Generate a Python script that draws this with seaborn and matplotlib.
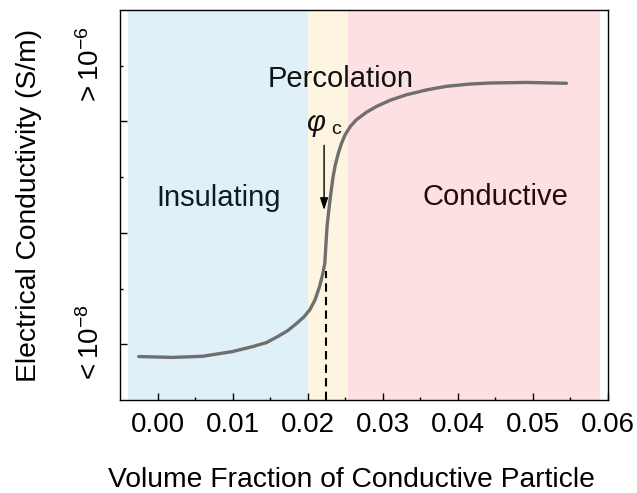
import matplotlib
matplotlib.use("Agg")
import matplotlib.pyplot as plt
import seaborn as sns
import pandas as pd

# ---- data ----
frac = [-0.0025, 0.0020, 0.0060, 0.0100, 0.0127, 0.0145, 0.0159, 0.0173, 0.0185,
        0.0195, 0.0203, 0.0210, 0.0216, 0.0220, 0.0223, 0.02245, 0.0226, 0.0228,
        0.0230, 0.0232, 0.0234, 0.0237, 0.0241, 0.0245, 0.0250, 0.0257, 0.0265,
        0.0279, 0.0292, 0.0310, 0.0332, 0.0360, 0.0385, 0.0415, 0.0443, 0.0492,
        0.0545]
cond = [-0.22, -0.235, -0.215, -0.13, -0.04, 0.03, 0.13, 0.24, 0.37,
        0.49, 0.62, 0.80, 1.04, 1.25, 1.46, 1.80, 2.12, 2.37,
        2.60, 2.81, 3.01, 3.22, 3.43, 3.60, 3.76, 3.91, 4.03,
        4.17, 4.27, 4.38, 4.48, 4.57, 4.63, 4.67, 4.69, 4.70,
        4.685]
region_names = ["Insulating", "Percolation", "Conductive"]
region_bounds = [(-0.004, 0.020), (0.020, 0.0254), (0.0254, 0.059)]
region_colors = ["#E0F0F8", "#FEF5E1", "#FDE0E2"]
phi_c = 0.0224
x_ticks = [0.00, 0.01, 0.02, 0.03, 0.04, 0.05, 0.06]
x_tick_labels = ["0.00", "0.01", "0.02", "0.03", "0.04", "0.05", "0.06"]

sns.set_theme(style="white")
plt.rcParams["font.family"] = ["Liberation Sans", "DejaVu Sans"]
plt.rcParams["mathtext.fontset"] = "custom"
plt.rcParams["mathtext.rm"] = "Liberation Sans"
plt.rcParams["mathtext.it"] = "Liberation Sans:italic"
plt.rcParams["axes.unicode_minus"] = False

fig = plt.figure(figsize=(6.37, 4.93), dpi=100)
ax = fig.add_axes([0.1884, 0.1886, 0.954 - 0.1884, 0.9797 - 0.1886])

for (a, b), c in zip(region_bounds, region_colors):
    ax.axvspan(a, b, color=c, lw=0, zorder=0)

df = pd.DataFrame({"frac": frac, "cond": cond})
sns.lineplot(data=df, x="frac", y="cond", ax=ax, color="#6f6f6f", lw=2.4,
             sort=False, zorder=3)

ax.plot([phi_c, phi_c], [-1, 1.31], color="black", lw=1.5,
        linestyle=(0, (4, 2.5)), zorder=2)
ax.annotate("", xy=(0.0222, 2.36), xytext=(0.0222, 3.62),
            arrowprops=dict(arrowstyle="-|>,head_length=0.6,head_width=0.2",
                            color="black", lw=1), zorder=4)
ax.text(0.0212, 3.98, "φ", style="italic", fontsize=21, ha="center",
        va="center", color="#111111")
ax.text(0.0238, 3.86, "c", fontsize=14, ha="center", va="center",
        color="#111111")

txt_col = ["#0e1a26", "#111111", "#260a0a"]
ax.text(0.0081, 2.62, region_names[0], fontsize=21, ha="center", va="center",
        color=txt_col[0])
ax.text(0.0244, 4.77, region_names[1], fontsize=21, ha="center", va="center",
        color=txt_col[1])
ax.text(0.0450, 2.64, region_names[2], fontsize=21, ha="center", va="center",
        color=txt_col[2])

ax.set_xlim(-0.005, 0.06)
ax.set_ylim(-1, 6)
ax.set_xticks(x_ticks, x_tick_labels)
ax.set_xticks([0.005, 0.015, 0.025, 0.035, 0.045, 0.055], minor=True)
ax.set_yticks([0, 2, 4], [r"$<10^{-8}$", "", ""])
ax.set_yticks([1, 3, 5], ["", "", r"$>10^{-6}$"], minor=True)
for lab in ax.get_yticklabels(minor=False) + ax.get_yticklabels(minor=True):
    lab.set_rotation(90)
    lab.set_va("center")

ax.tick_params(axis="both", which="major", direction="in", length=5,
               width=1, color="black", labelsize=20, labelcolor="black",
               bottom=True, left=True)
ax.tick_params(axis="both", which="minor", direction="in", length=2.5,
               width=1, color="black", labelsize=20, labelcolor="black",
               bottom=True, left=True)
ax.tick_params(axis="x", which="both", pad=8.5)
ax.tick_params(axis="y", which="both", pad=11)

for s in ax.spines.values():
    s.set_visible(True)
    s.set_color("black")
    s.set_linewidth(1)

ax.set_xlabel("Volume Fraction of Conductive Particle", fontsize=20.3,
              color="black", va="center")
ax.xaxis.set_label_coords(0.4747, -0.205)
ax.set_ylabel("Electrical Conductivity (S/m)", fontsize=20.3, color="black",
              va="center")
ax.yaxis.set_label_coords(-0.1866, 0.5)

fig.savefig("out.png", dpi=100, facecolor="white")
